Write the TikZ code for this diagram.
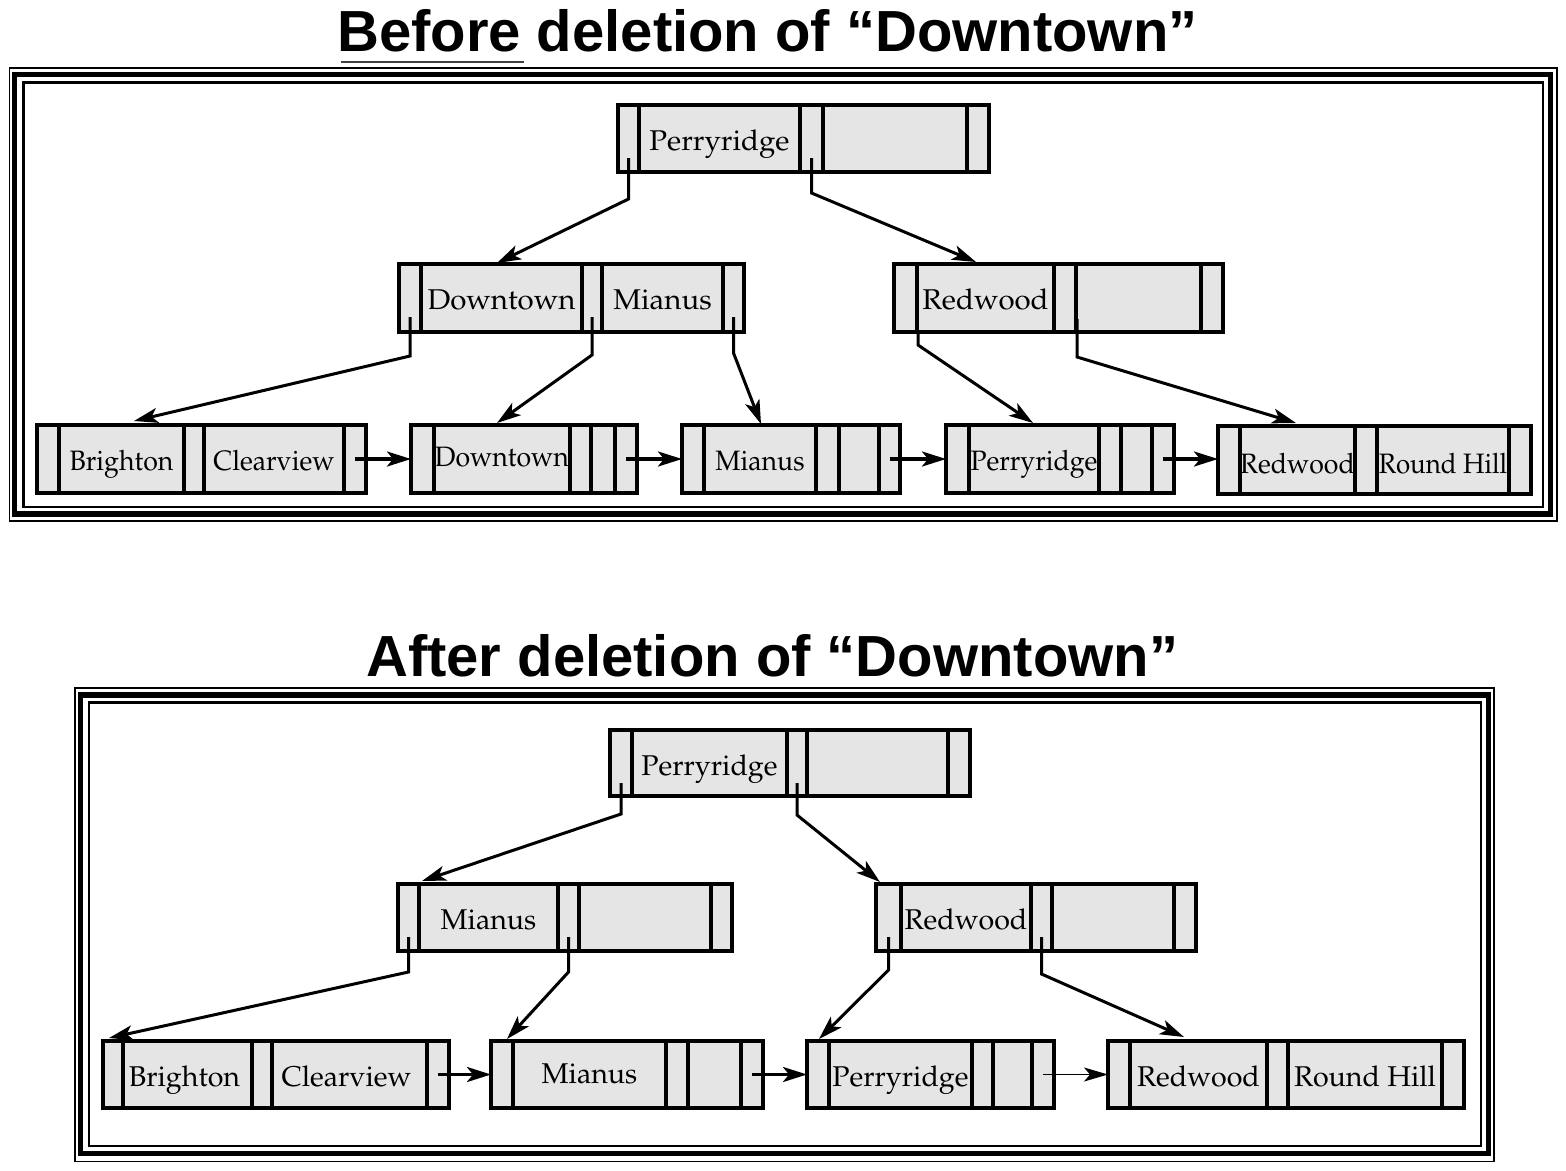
\documentclass[tikz,border=0pt]{standalone}
\usepackage[T1]{fontenc}
\usepackage{fontspec}
\usepackage{graphicx}
\usetikzlibrary{fit,arrows.meta}
\newfontfamily\titlefont{Liberation Sans}
\newcommand\pal{\fontencoding{T1}\fontfamily{ppl}\selectfont}
\newcommand\txA[1]{\scalebox{1.07}[1.04]{#1}}
\newcommand\txB[1]{\scalebox{0.97}[1.02]{#1}}
\newcommand\txC[1]{\scalebox{1.04}[1.04]{#1}}
\definecolor{nodegray}{gray}{0.9}
\tikzset{
  bbox/.style={draw=black,fill=nodegray,line width=3.2pt,inner sep=0pt,outer sep=0pt},
  sepline/.style={line width=3.2pt},
  lab/.style={anchor=base,inner sep=0pt,font=\pal\fontsize{27.5}{27.5}\selectfont},
  ptr/.style={line width=3pt,-{Stealth[length=24pt,width=15pt,inset=6pt]}},
  larrow/.style={line width=3.4pt,-{Stealth[length=24pt,width=15pt,inset=6pt]}},
  thinarrow/.style={line width=1.5pt,-{Stealth[length=24pt,width=14pt,inset=6pt]}},
  ttl/.style={inner sep=0pt,font=\titlefont\bfseries\fontsize{58}{58}\selectfont},
}
% B+ tree node: name, x-list (6 values), ytop, ybot
\def\bpn#1#2#3#4{\bpnaux{#1}{#3}{#4}#2\relax}
\def\bpnaux#1#2#3#4,#5,#6,#7,#8,#9\relax{%
  \node[bbox, fit={(#4,#2) (#9,#3)}] (#1) {};
  \foreach \xx in {#5,#6,#7,#8} \draw[sepline] (\xx,#2) -- (\xx,#3);
  \coordinate (#1-k1) at ({(#5+#6)/2},{#2+45});
  \coordinate (#1-k2) at ({(#7+#8)/2},{#2+45});
  \coordinate (#1-p1) at ({(#4+#5)/2},{#2+53});
  \coordinate (#1-p2) at ({(#6+#7)/2},{#2+53});
  \coordinate (#1-p3) at ({(#8+#9)/2},{#2+53});
  \coordinate (#1-m3) at ({(#8+#9)/2},{(#2+#3)/2});
}
\begin{document}
\begin{tikzpicture}[x=1pt,y=-1pt]
\useasboundingbox (0,0) rectangle (1566,1170);

% ---------- titles ----------
\node[ttl,anchor=base west] (t1) at (337,51) {Before deletion of “Downtown”};
\draw[line width=2.2pt,black!75] (341,62) -- (524,62);
\node[ttl,anchor=base west] (t2) at (366,676) {After deletion of “Downtown”};

% ---------- frames ----------
\draw[line width=1.8pt] (9.5,67.7) rectangle (1556.7,521);
\draw[line width=5.5pt] (14.5,74.5) rectangle (1550.5,514);
\draw[line width=2.4pt] (23.5,82.5) rectangle (1542.7,506.7);

\draw[line width=1.8pt] (75,688) rectangle (1494,1161.5);
\draw[line width=5.5pt] (80.5,695) rectangle (1488.5,1153.5);
\draw[line width=2.4pt] (89,702.5) rectangle (1481,1146);

% ---------- before: nodes ----------
\bpn{tr}{618,639,800,823,967,989}{105}{172}
\bpn{m1}{399,421,582,602,723,744}{264}{332}
\bpn{m2}{894,917,1054,1076,1201,1223}{264}{332}
\bpn{L1}{37,59,184,204,344,366}{425}{493}
\bpn{L2}{411,434,570,591,615,637}{425}{493}
\bpn{L3}{682,704,816,839,879,900}{425}{493}
\bpn{L4}{946,969,1099,1121,1152,1174}{425}{493}
\bpn{L5}{1218,1240,1355,1377,1509,1531}{426}{494}

\node[lab] (trA) at (tr-k1) {\txA{Perryridge}};
\node[lab] (m1A) at (m1-k1) {\txA{Downtown}};
\node[lab] (m1B) at (m1-k2) {\txA{Mianus}};
\node[lab] (m2A) at (m2-k1) {\txA{Redwood}};
\node[lab] (L1A) at (L1-k1) {\txB{Brighton}};
\node[lab] (L1B) at (L1-k2) {\txB{Clearview}};
\node[lab,yshift=4pt] (L2A) at (L2-k1) {\txB{Downtown}};
\node[lab] (L3A) at (L3-k1) {\txB{Mianus}};
\node[lab] (L4A) at (L4-k1) {\txB{Perryridge}};
\node[lab,yshift=-2pt] (L5A) at (L5-k1) {\txB{Redwood}};
\node[lab,yshift=-2pt] (L5B) at (L5-k2) {\scalebox{0.94}[1.02]{Round Hill}};

% ---------- before: pointers ----------
\draw[ptr] (tr-p1) -- ++(0,41) -- ([xshift=98pt,yshift=1pt]m1.north west);
\draw[ptr] (tr-p2) -- ++(0,35) -- ([xshift=82pt,yshift=2pt]m2.north west);
\draw[ptr] (m1-p1) -- ++(0,39) -- ([xshift=97pt,yshift=4pt]L1.north west);
\draw[ptr] (m1-p2) -- ++(0,38) -- ([xshift=86pt,yshift=2pt]L2.north west);
\draw[ptr] (m1-p3) -- ++(0,36) -- ([xshift=79pt,yshift=1pt]L3.north west);
\coordinate (m2-q1) at ([xshift=24pt]m2.south west);
\coordinate (m2-q2) at (1077,319);
\draw[ptr] (m2-q1) -- ++(0,13) -- ([xshift=87pt,yshift=2pt]L4.north west);
\draw[ptr] (m2-q2) -- ++(0,38) -- ([xshift=78pt,yshift=3pt]L5.north west);

\draw[larrow] (L1-m3) -- (L1-m3 -| L2.west);
\draw[larrow] (L2-m3) -- (L2-m3 -| L3.west);
\draw[larrow] (L3-m3) -- (L3-m3 -| L4.west);
\draw[larrow] (L4-m3) -- (L4-m3 -| L5.west);

% ---------- after: nodes ----------
\bpn{br}{610,632,787,807,948,970}{730}{796}
\bpn{M1}{398,419,558,579,711,732}{884}{951}
\bpn{M2}{876,901,1031,1052,1174,1196}{884}{951}
\bpn{B1}{103,123,252,272,427,449}{1041}{1108}
\bpn{B2}{491,513,666,688,741,763}{1041}{1108}
\bpn{B3}{807,829,972,993,1032,1054}{1041}{1108}
\bpn{B4}{1108,1130,1267,1288,1442,1464}{1041}{1108}

\node[lab] (brA) at (br-k1) {\txC{Perryridge}};
\node[lab] (M1A) at (M1-k1) {\txC{Mianus}};
\node[lab] (M2A) at (M2-k1) {\txC{Redwood}};
\node[lab,xshift=-3pt] (B1A) at (B1-k1) {\txC{Brighton}};
\node[lab,xshift=-3pt] (B1B) at (B1-k2) {\txC{Clearview}};
\node[lab,yshift=3pt] (B2A) at (B2-k1) {\txC{Mianus}};
\node[lab] (B3A) at (B3-k1) {\txC{Perryridge}};
\node[lab] (B4A) at (B4-k1) {\txC{Redwood}};
\node[lab] (B4B) at (B4-k2) {\txC{Round Hill}};

% ---------- after: pointers ----------
\draw[ptr] (br-p1) -- ++(0,31) -- ([xshift=24pt,yshift=3pt]M1.north west);
\draw[ptr] (br-p2) -- ++(0,32) -- ([xshift=4pt,yshift=2pt]M2.north west);
\draw[ptr] (M1-p1) -- ++(0,35) -- ([xshift=6pt,yshift=3pt]B1.north west);
\draw[ptr] (M1-p2) -- ++(0,35) -- ([xshift=16pt,yshift=2pt]B2.north west);
\draw[ptr] (M2-p1) -- ++(0,33) -- ([xshift=12pt,yshift=2pt]B3.north west);
\draw[ptr] (M2-p2) -- ++(0,37) -- ([xshift=76pt,yshift=4pt]B4.north west);

\draw[larrow] (B1-m3) -- (B1-m3 -| B2.west);
\draw[larrow] (B2-m3) -- (B2-m3 -| B3.west);
\draw[thinarrow] (B3-m3) -- (B3-m3 -| B4.west);
\end{tikzpicture}
\end{document}
